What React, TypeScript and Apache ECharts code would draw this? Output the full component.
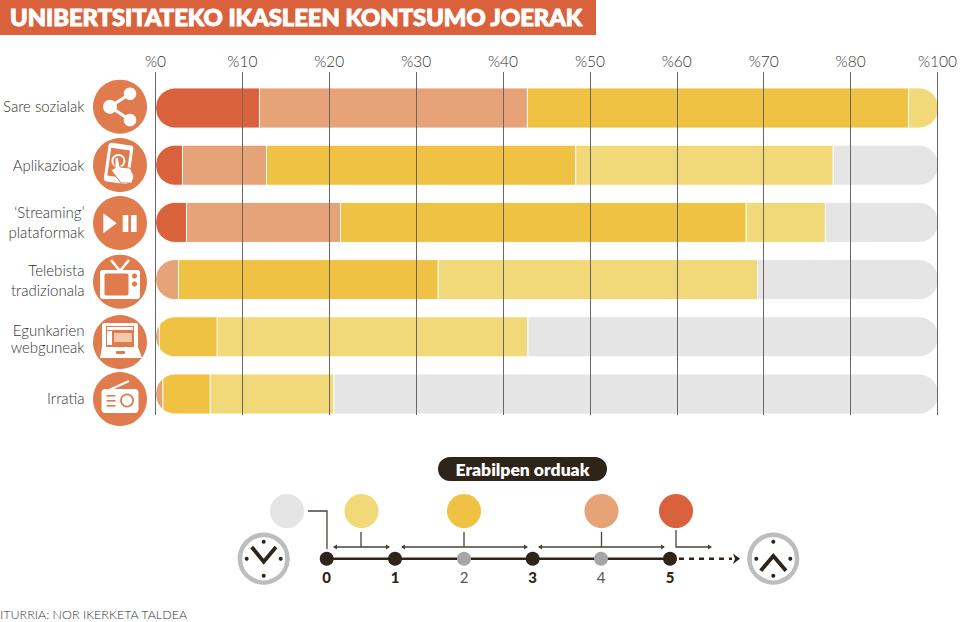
import React, { useEffect, useRef } from "react";
import * as echarts from "echarts";

const titleText = "UNIBERTSITATEKO IKASLEEN KONTSUMO JOERAK";
const sourceText = "ITURRIA: NOR IKERKETA TALDEA";
const legendTitle = "Erabilpen orduak";
const categories = ["Sare sozialak", "Aplikazioak", "‘Streaming’\nplataformak", "Telebista\ntradizionala", "Egunkarien\nwebguneak", "Irratia"];
// Axis is as printed: equal steps, with the last step labelled %100.
const tickLabels = ["%0", "%10", "%20", "%30", "%40", "%50", "%60", "%70", "%80", "%100"];
const over5 = [11.95, 3.1, 3.56, 0, 0, 0];
const h3to5 = [30.8, 9.66, 17.7, 2.64, 0.45, 0.85];
const h1to3 = [43.8, 35.54, 46.64, 29.86, 6.65, 5.45];
const h0to1 = [3.45, 29.6, 9.1, 36.7, 35.7, 14.2];
const none = [0, 12.1, 13, 20.8, 47.2, 69.5];
const bandNames = ["5+", "3-5", "1-3", "0-1", "0"];
const bandValues = [over5, h3to5, h1to3, h0to1, none];
const bandColors = ["#d9623c", "#e6a377", "#f0c244", "#f1d97a", "#e5e5e5"];
const timelineLabels = ["0", "1", "2", "3", "4", "5"];

const ICON = "#e07b4d";
const DARK = "#2e2419";
const LINE = "#4a4238";
const W = "#fff";

function pillPolygon(x0: number, x1: number, X0: number, X1: number, cy: number, r: number) {
  const half = (x: number) => {
    if (x < X0 + r) return Math.sqrt(Math.max(0, r * r - (X0 + r - x) ** 2));
    if (x > X1 - r) return Math.sqrt(Math.max(0, r * r - (x - X1 + r) ** 2));
    return r;
  };
  const xs: number[] = [x0];
  for (let i = 1; i < 24; i++) {
    const a = X0 + (r * i) / 24;
    const b = X1 - r + (r * i) / 24;
    if (a > x0 && a < x1) xs.push(a);
    if (b > x0 && b < x1) xs.push(b);
  }
  xs.push(x1);
  xs.sort((p, q) => p - q);
  const top = xs.map((x) => [x, cy - half(x)]);
  const bottom = xs.slice().reverse().map((x) => [x, cy + half(x)]);
  return top.concat(bottom);
}

const seg = (x1: number, y1: number, x2: number, y2: number, lineWidth = 1.3, stroke = LINE, extra: any = {}) => ({
  type: "line", shape: { x1, y1, x2, y2 }, style: { stroke, lineWidth, ...extra },
});
const arrowHead = (x: number, y: number, dir: number) => ({
  type: "polygon", shape: { points: [[x, y], [x - dir * 4, y - 2.6], [x - dir * 4, y + 2.6]] }, style: { fill: LINE },
});
const dot = (x: number, y: number, r: number, fill: string) => ({ type: "circle", shape: { cx: x, cy: y, r }, style: { fill } });
const box = (x: number, y: number, width: number, height: number, fill: string, r = 0) => ({
  type: "rect", shape: { x, y, width, height, r }, style: { fill },
});
const doubleArrow = (a: number, b: number, y: number) => [seg(a, y, b, y), arrowHead(a - 1, y, -1), arrowHead(b + 1, y, 1)];

function clock(cx: number, cy: number, hands: number[][]) {
  const out: any[] = [
    { type: "circle", shape: { cx, cy, r: 23.8 }, style: { fill: W, stroke: "#bdbdbd", lineWidth: 4.6 } },
    dot(cx, cy - 17, 2, DARK), dot(cx, cy + 17, 2, DARK), dot(cx - 17, cy, 2, DARK), dot(cx + 17, cy, 2, DARK),
    { type: "polyline", shape: { points: hands }, style: { stroke: DARK, lineWidth: 3.8, fill: "none" } },
  ];
  return out;
}

function icons() {
  const xc = 120;
  const c = (y: number) => dot(xc, y, 27, ICON);
  return [
    c(106.7), c(165), c(223), c(281.7), c(342), c(399),
    // share
    seg(130, 93.7, 110, 106.7, 3, W), seg(110, 106.7, 130, 120, 3, W),
    dot(130, 93.7, 6.3, W), dot(110, 106.7, 7, W), dot(130, 120, 6.3, W),
    // phone with hand
    {
      type: "group", x: 119, y: 164, rotation: -0.14,
      children: [
        box(-13, -20, 25, 39, W, 3),
        box(-10, -15, 19, 28, ICON),
        { type: "ring", shape: { cx: -1, cy: -3, r: 7, r0: 5 }, style: { fill: W } },
      ],
    },
    {
      type: "polygon",
      shape: { points: [[115, 158], [118, 157], [120, 167], [130, 168], [134, 176], [132, 183], [121, 183], [111, 170], [115, 168]] },
      style: { fill: W, stroke: ICON, lineWidth: 1 },
    },
    // play / pause
    { type: "polygon", shape: { points: [[103.3, 213.3], [116.7, 223.3], [103.3, 233.3]] }, style: { fill: W } },
    box(122.7, 215, 5.6, 17, W), box(131, 215, 5.6, 17, W),
    // tv
    seg(111, 260, 120, 271, 2.6, W), seg(129, 260, 120, 271, 2.6, W),
    box(100, 270, 40, 29, W, 3),
    box(104.5, 273.5, 24, 22, ICON, 2),
    dot(134.5, 276, 2.6, ICON), dot(134.5, 284, 2.6, ICON),
    // laptop
    box(102, 323, 36, 27, W, 2),
    box(106, 326, 28, 21, ICON),
    box(107, 327, 26, 3, W), box(107, 331, 5, 14, W), box(114, 333, 18, 9, "#f5c9ae"),
    { type: "polygon", shape: { points: [[102, 347], [138, 347], [142, 358], [100, 358]] }, style: { fill: W } },
    box(116, 351, 9, 3, ICON, 1),
    // radio
    seg(107, 391, 129, 381, 2.2, W),
    box(101.5, 389, 37, 24, W, 4),
    { type: "ring", shape: { cx: 127, cy: 400.5, r: 7, r0: 5.2 }, style: { fill: ICON } },
    box(106.5, 395, 9, 1.6, ICON), box(106.5, 400, 9, 1.6, ICON), box(106.5, 405, 9, 1.6, ICON),
  ];
}

function legend() {
  const nodes = [326.7, 395, 464, 532.7, 601, 670];
  const ty = 558.7;
  const bold = [true, true, false, true, false, true];
  const out: any[] = [
    box(438, 457, 169, 24, DARK, 12),
    { type: "text", style: { text: legendTitle, x: 522.5, y: 469, fill: W, font: "800 17.5px Lato", align: "center", verticalAlign: "middle" } },
    dot(287, 511, 17, bandColors[4]), dot(361.5, 511, 17, bandColors[3]), dot(464, 511, 17, bandColors[2]),
    dot(601.5, 511, 17, bandColors[1]), dot(676, 511, 17, bandColors[0]),
    { type: "polyline", shape: { points: [[308, 511], [327, 511], [327, 549]] }, style: { stroke: LINE, lineWidth: 1.3, fill: "none" } },
    seg(361, 532, 361, 547), ...doubleArrow(334, 389, 547),
    seg(464, 532, 464, 547), ...doubleArrow(402, 527, 547),
    seg(601.5, 532, 601.5, 547), ...doubleArrow(539, 664, 547),
    { type: "polyline", shape: { points: [[676, 530], [676, 547], [711, 547]] }, style: { stroke: LINE, lineWidth: 1.3, fill: "none" } },
    arrowHead(712, 547, 1),
    seg(326.7, ty, 670, ty, 2.6, DARK),
    seg(679, ty, 732, ty, 2.4, DARK, { lineDash: [5, 5] }),
    { type: "polygon", shape: { points: [[733, 553.5], [740, ty], [733, 564], [735, ty]] }, style: { fill: DARK } },
  ];
  nodes.forEach((x, i) => {
    out.push(dot(x, ty, 7, bold[i] ? DARK : "#a6a6a6"));
    out.push({
      type: "text",
      style: {
        text: timelineLabels[i], x, y: 577, fill: bold[i] ? DARK : "#555",
        font: `${bold[i] ? 900 : 400} 15px Lato`, align: "center", verticalAlign: "middle",
      },
    });
  });
  out.push(...clock(263.7, 558.7, [[251.7, 547], [263.7, 561.7], [276, 547]]));
  out.push(...clock(773.3, 558.7, [[760.7, 570.7], [773.3, 556], [786, 570.7]]));
  return out;
}

const labelBase = { color: "#333", fontFamily: "Lato", fontWeight: 300, fontSize: 15, lineHeight: 20, align: "right" };

export default function App() {
  const ref = useRef<HTMLDivElement>(null);
  useEffect(() => {
    const chart = echarts.init(ref.current!, undefined, { renderer: "svg" });
    const totals = categories.map(() => 0);
    const series = bandNames.map((name, b) => {
      const data = bandValues[b].map((v, i) => {
        const start = totals[i];
        totals[i] += v;
        return [start, totals[i], i];
      });
      return {
        type: "custom", name, coordinateSystem: "cartesian2d", xAxisIndex: 0, yAxisIndex: 0, z: 2,
        encode: { x: [0, 1], y: 2 },
        data,
        renderItem: (_: any, api: any) => {
          const s = api.value(0), e = api.value(1), row = api.value(2);
          if (e - s <= 0) return null;
          const p0 = api.coord([s, row]);
          const p1 = api.coord([e, row]);
          const X0 = api.coord([0, row])[0];
          const X1 = api.coord([90, row])[0];
          const r = (api.size([0, 1])[1] * 0.7) / 2;
          return {
            type: "polygon",
            shape: { points: pillPolygon(p0[0], p1[0], X0, X1, p0[1], r) },
            style: { fill: bandColors[b], stroke: W, lineWidth: 0.9 },
          };
        },
      };
    });
    chart.setOption({
      animation: false,
      backgroundColor: "#fff",
      grid: [
        { left: 155.5, right: 21.5, top: 79.4, height: 343.2 },
        { left: 155.5, right: 21.5, top: 72, height: 343 },
      ],
      xAxis: [
        { type: "value", gridIndex: 0, min: 0, max: 90, show: false },
        {
          type: "value", gridIndex: 1, min: 0, max: 90, interval: 10, position: "top", z: 5,
          axisLine: { show: false }, axisTick: { show: false },
          splitLine: { show: true, lineStyle: { color: "#6b6660", width: 1 } },
          axisLabel: {
            color: "#333", fontFamily: "Lato", fontWeight: 300, fontSize: 15.5, margin: 3, hideOverlap: false,
            formatter: (v: number) => tickLabels[Math.round(v / 10)],
          },
        },
      ],
      yAxis: [
        {
          type: "category", gridIndex: 0, inverse: true, data: categories,
          axisLine: { show: false }, axisTick: { show: false }, splitLine: { show: false },
          axisLabel: {
            ...labelBase, margin: 71,
            formatter: (v: string) => {
              const lines = v.split("\n");
              const tag = v.startsWith("Sare") ? "up" : v.startsWith("Irratia") ? "low" : v.startsWith("Egun") ? "mid" : "n";
              if (tag === "up") return `{n|${lines[0]}}\n{gap| }`;
              return lines.map((l, i) => (i === 0 ? `{${tag}|${l}}` : `{n|${l}}`)).join("\n");
            },
            rich: {
              n: { ...labelBase },
              up: { ...labelBase },
              gap: { ...labelBase, lineHeight: 4, fontSize: 4 },
              mid: { ...labelBase, padding: [6, 0, 0, 0] },
              low: { ...labelBase, padding: [8, 0, 0, 0] },
            },
          },
        },
        { type: "value", gridIndex: 1, min: 0, max: 1, show: false },
      ],
      series,
      graphic: {
        elements: [
          box(0, 0, 596, 35, "#d9623c"),
          {
            type: "text", x: 10, y: 17, scaleX: 1.08,
            style: { text: titleText, x: 0, y: 0, fill: W, stroke: W, lineWidth: 1, font: "900 22px Lato", align: "left", verticalAlign: "middle" },
          },
          {
            type: "text",
            style: { text: sourceText, x: 0, y: 614, fill: "#333", font: "300 12.5px Lato", align: "left", verticalAlign: "middle" },
          },
          ...icons(),
          ...legend(),
        ],
      },
    });
    return () => chart.dispose();
  }, []);
  return <div ref={ref} style={{ position: "fixed", left: 0, top: 0, width: 960, height: 622 }} />;
}
